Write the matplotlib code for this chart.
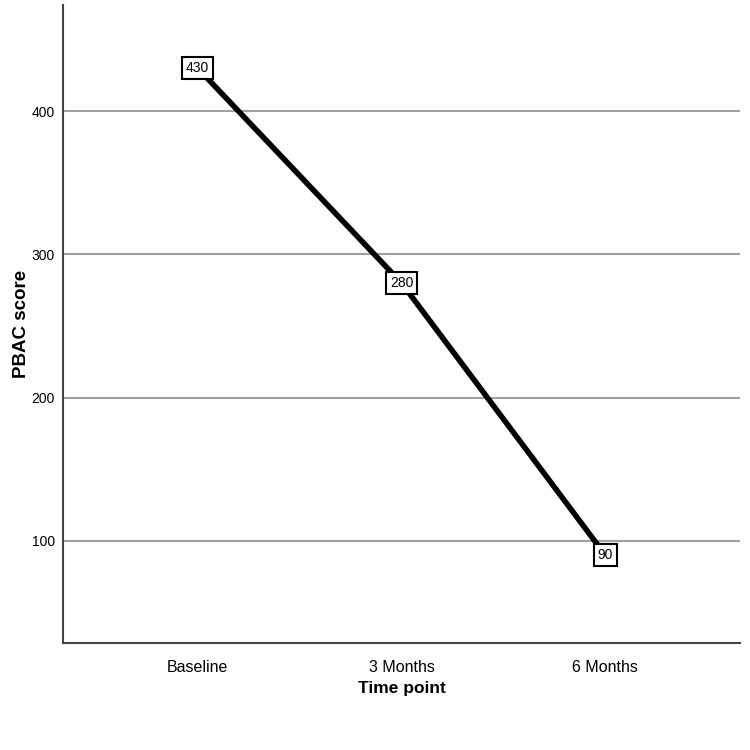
import matplotlib
matplotlib.use("Agg")
import matplotlib.pyplot as plt

categories = ["Baseline", "3 Months", "6 Months"]
values = [430, 280, 90]
yticks = [100, 200, 300, 400]

plt.rcParams['font.family'] = ['Liberation Sans', 'DejaVu Sans']

fig = plt.figure(figsize=(7.5, 7.5), dpi=100)
ax = fig.add_axes([0.084, 0.1427, 0.9027, 0.8507])
x = list(range(len(categories)))
ax.plot(x, values, color='black', lw=4, zorder=3, solid_capstyle='butt')
for xi, v in zip(x, values):
    ax.text(xi, v, str(v), ha='center', va='center', fontsize=10, zorder=4,
            bbox=dict(boxstyle='square,pad=0.3', fc='white', ec='black', lw=1.5))
ax.set_xlim(-0.66, 2.66)
ax.set_ylim(28.8, 474)
ax.set_yticks(yticks)
ax.set_yticklabels([str(t) for t in yticks], fontsize=10)
ax.set_xticks(x)
ax.set_xticklabels(categories, fontsize=11.5)
ax.yaxis.grid(True, color='#a0a0a0', lw=1.5)
ax.set_axisbelow(True)
ax.tick_params(axis='y', length=0, pad=6)
ax.tick_params(axis='x', length=0, pad=12)
for s in ['top', 'right']:
    ax.spines[s].set_visible(False)
for s in ['left', 'bottom']:
    ax.spines[s].set_color('#444444')
    ax.spines[s].set_linewidth(1.5)
ax.set_ylabel("PBAC score", fontsize=13.5, fontweight='bold')
ax.yaxis.set_label_coords(-0.049, 0.5)
ax.set_xlabel("Time point", fontsize=12.5, fontweight='bold')
ax.xaxis.set_label_coords(0.5, -0.06)
fig.savefig("out.png", dpi=100, facecolor='white')
